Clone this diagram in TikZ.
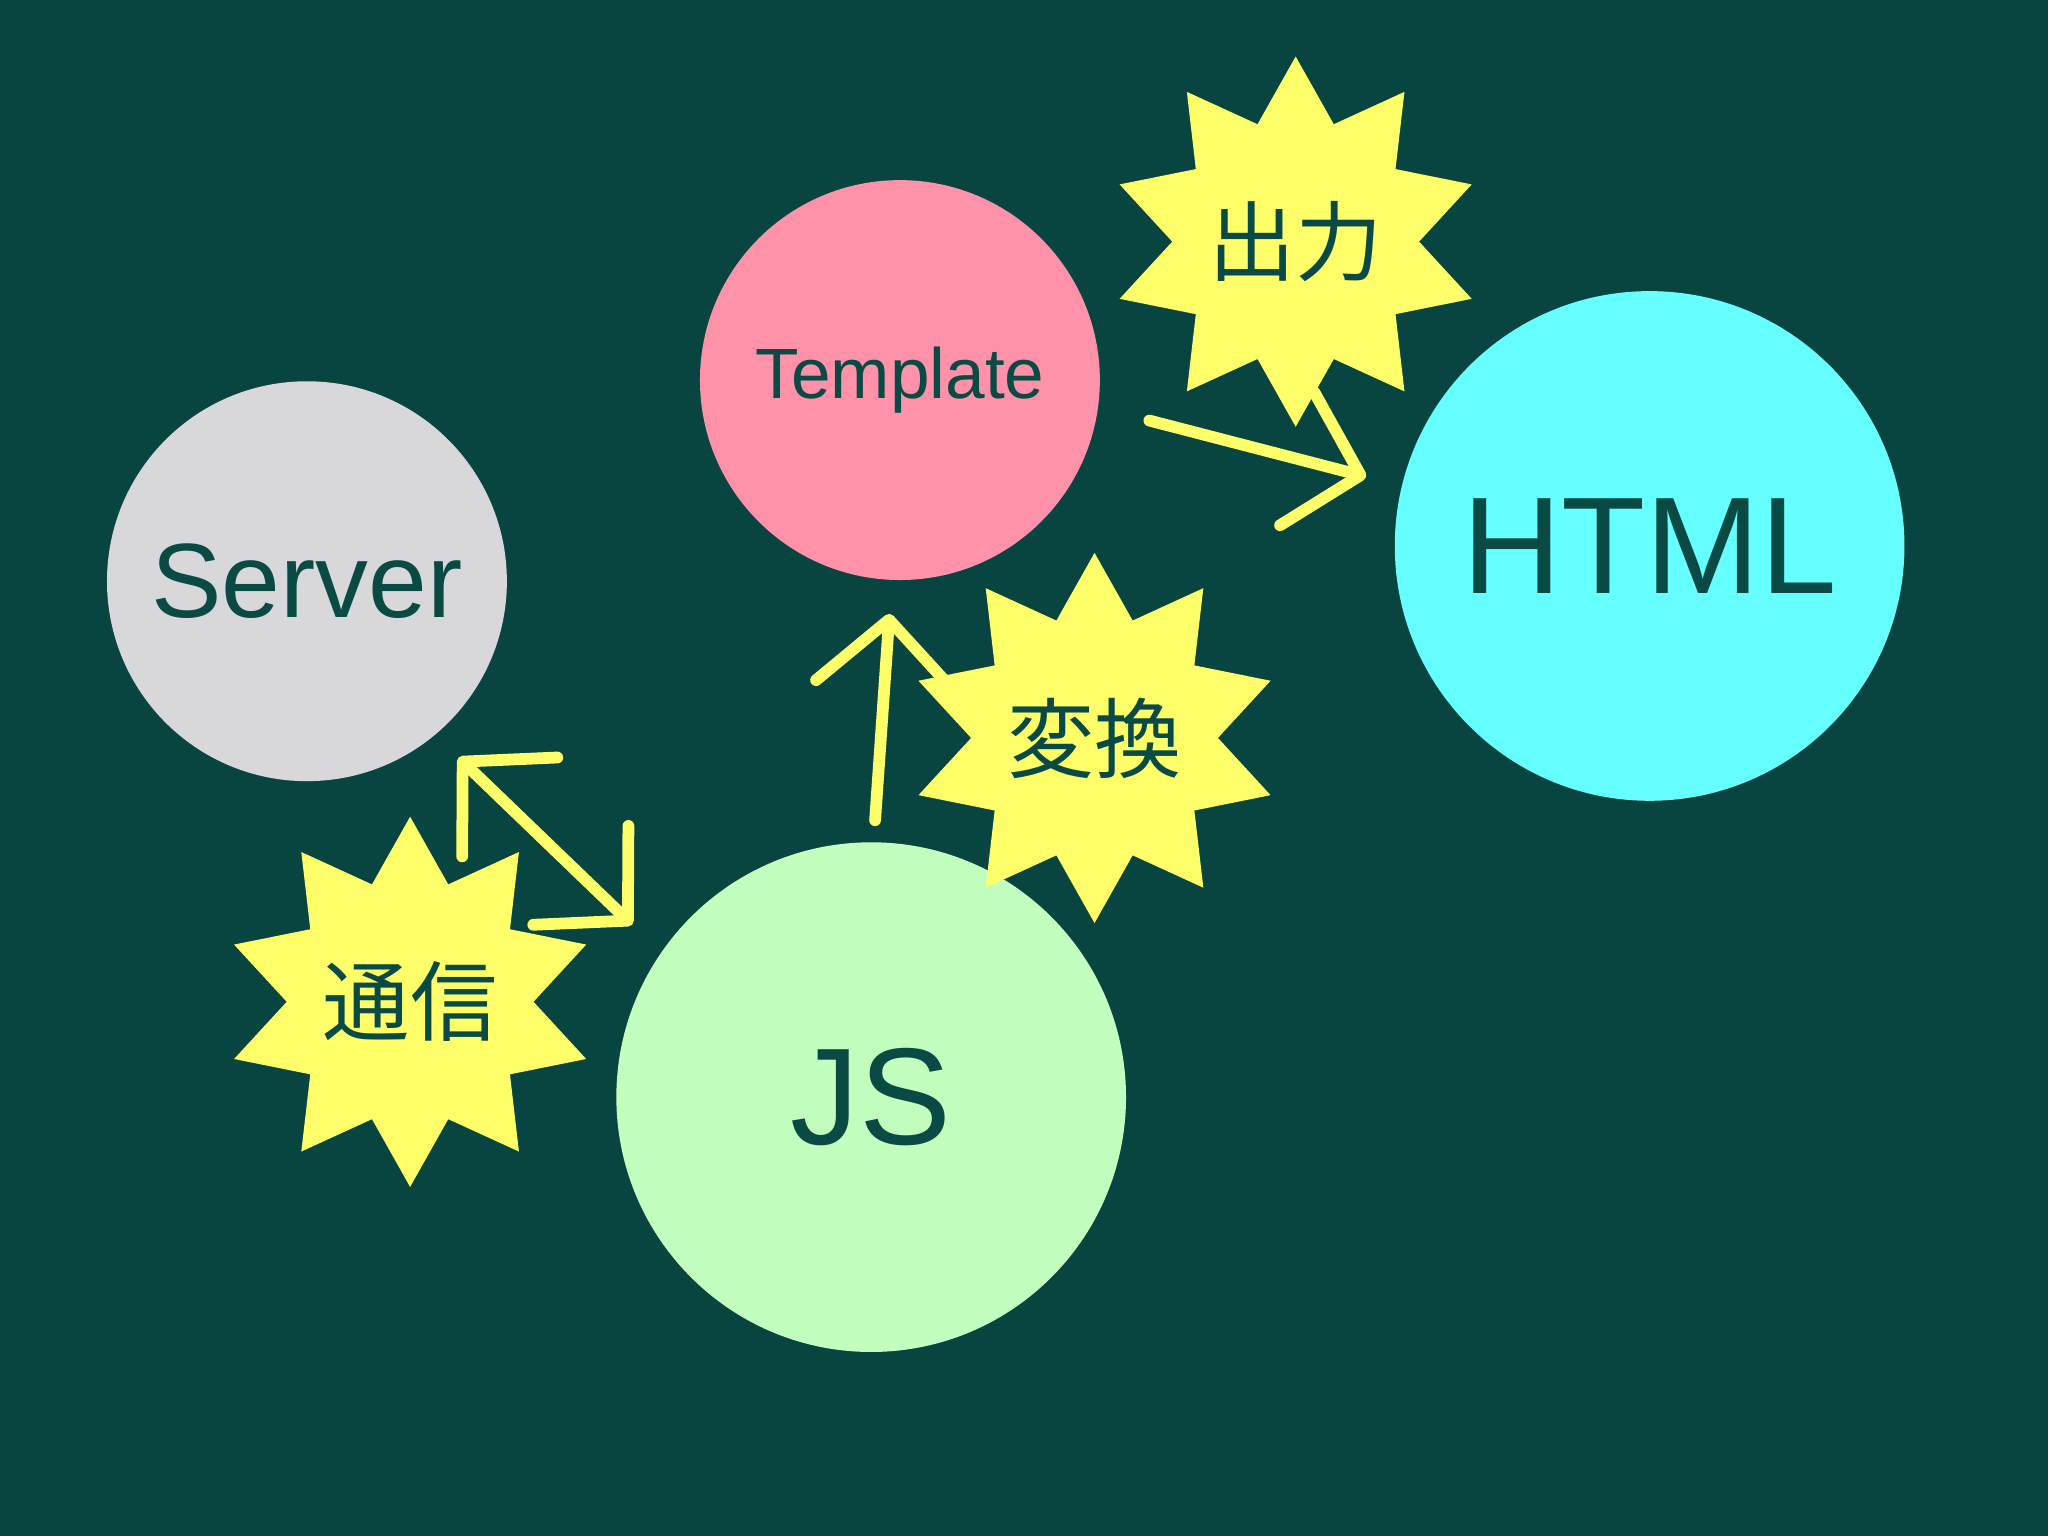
\documentclass[tikz,border=0pt]{standalone}
\usepackage{fontspec}
\setmainfont{Liberation Sans}
\newfontfamily\cjk{Noto Sans CJK JP}
\usetikzlibrary{shapes.geometric,arrows.meta}
\definecolor{bg}{HTML}{084540}
\definecolor{ink}{HTML}{0A4A44}
\definecolor{srv}{HTML}{D8D8DA}
\definecolor{tpl}{HTML}{FF91A8}
\definecolor{htm}{HTML}{66FFFF}
\definecolor{jsc}{HTML}{C2FFBE}
\definecolor{yel}{HTML}{FFFF6A}
\tikzset{
  ball/.style={circle,inner sep=0pt,text=ink},
  burst/.style={star,star points=10,star point ratio=1.5,minimum size=2.42cm,inner sep=0pt,fill=yel,text=ink,font=\cjk\fontsize{19}{19}\selectfont},
  yarrow/.style={draw=yel,line width=0.09cm,line cap=round,-{Straight Barb[length=0.5cm,width=1.05cm,round]}},
  ydarrow/.style={draw=yel,line width=0.09cm,line cap=round,{Straight Barb[length=0.5cm,width=1.05cm,round]}-{Straight Barb[length=0.5cm,width=1.05cm,round]}}
}
\begin{document}
\begin{tikzpicture}[x=0.01cm,y=-0.01cm]
\fill[bg] (0,0) rectangle (1568,1176);
\node[ball,fill=srv,minimum size=3.06cm,font=\fontsize{23}{23}\selectfont] (server) at (235,445) {Server};
\node[ball,fill=tpl,minimum size=3.06cm,font=\fontsize{15.5}{15.5}\selectfont] (template) at (689,291) {Template};
\node[ball,fill=htm,minimum size=3.9cm,font=\fontsize{30}{30}\selectfont] (html) at (1263,418) {HTML};
\node[ball,fill=jsc,minimum size=3.9cm,font=\fontsize{30}{30}\selectfont] (js) at (667,840) {JS};
\node[burst] (out) at (992,185) {出力};
\node[burst] (conv) at (838,565) {変換};
\node[burst] (comm) at (314,767) {通信};
\coordinate (a1) at (880,322);
\coordinate (a2) at (1046,365);
\coordinate (b1) at (670,628);
\coordinate (b2) at (681,470);
\coordinate (c1) at (351,580);
\coordinate (c2) at (484,708);
\draw[yarrow] (a1) -- (a2);
\draw[yarrow] (b1) -- (b2);
\draw[ydarrow] (c1) -- (c2);
\end{tikzpicture}
\end{document}
